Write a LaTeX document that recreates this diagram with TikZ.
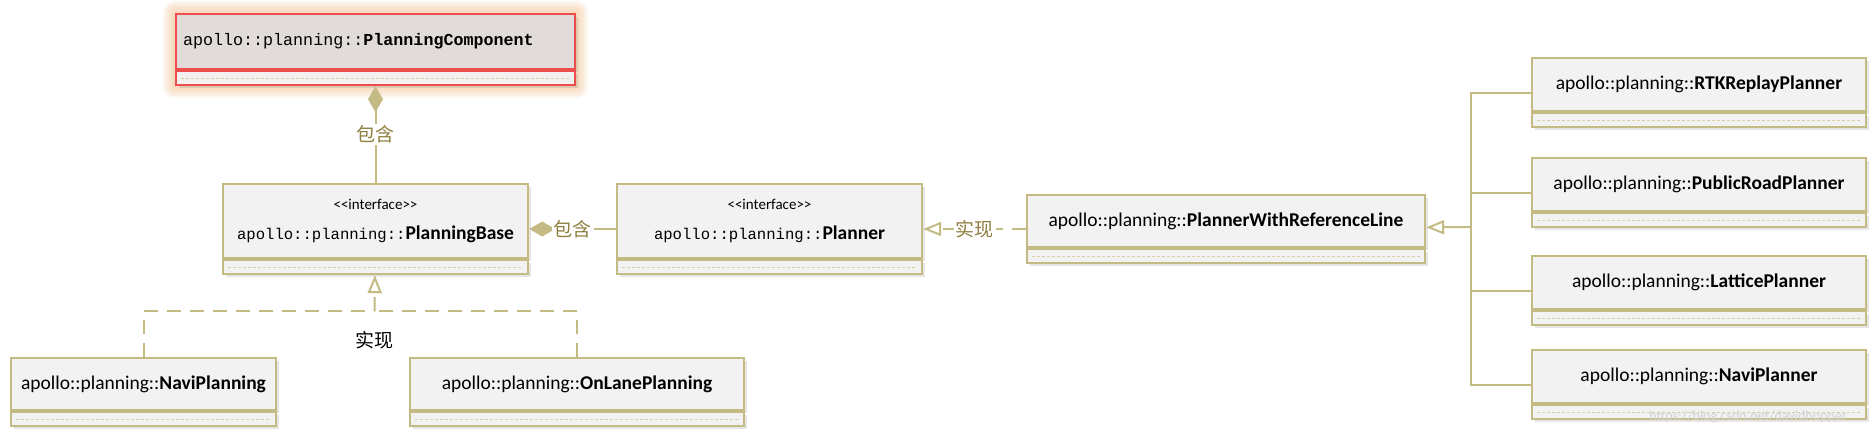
\documentclass[tikz,border=0pt]{standalone}
\usepackage{fontspec}
\newfontfamily\uifont{Carlito}
\newfontfamily\codefont{Liberation Mono}
\newfontfamily\cjkfont{Noto Sans CJK SC}
\usetikzlibrary{positioning, fit, calc, shadows, arrows.meta}

\definecolor{umlline}{HTML}{C3BB83}
\definecolor{umlfill}{HTML}{F2F2F2}
\definecolor{umldot}{HTML}{D6CFA2}
\definecolor{umllabel}{HTML}{8E7E3E}
\definecolor{compfill}{HTML}{E1DCDA}
\definecolor{compline}{HTML}{EE4D4D}
\definecolor{compglow}{HTML}{F2B77C}

\tikzset{
  classhead/.style={draw=umlline, fill=umlfill, line width=2pt, anchor=north west,
    inner sep=0pt, align=center, font=\uifont\fontsize{19.5}{23}\selectfont,
    drop shadow={shadow xshift=3pt, shadow yshift=-3pt, opacity=0.2}},
  classops/.style={draw=umlline, fill=umlfill, line width=2pt, inner sep=0pt,
    minimum height=14pt,
    drop shadow={shadow xshift=3pt, shadow yshift=-3pt, opacity=0.2},
    path picture={\draw[umldot, line width=1pt, dash pattern=on 3pt off 2pt]
      ($(path picture bounding box.west)+(5pt,0pt)$) -- ($(path picture bounding box.east)+(-5pt,0pt)$);}},
  comphead/.style={classhead, draw=compline, fill=compfill, drop shadow={opacity=0},
    inner xsep=7pt, text width=385pt, align=left,
    font=\codefont\fontsize{16.7}{20}\selectfont},
  compops/.style={classops, draw=compline, fill=white!60!compfill, drop shadow={opacity=0}},
  conn/.style={draw=umlline, line width=2pt},
  compose/.style={conn, -{Diamond[length=26pt, width=15pt]}},
  realize/.style={conn, dash pattern=on 14pt off 9pt},
  generalize/.style={-{Triangle[open, length=18pt, width=14pt]}},
  linklabel/.style={fill=white, inner sep=2pt, text=umllabel, font=\cjkfont\fontsize{19}{22}\selectfont},
}
\newcommand{\pkg}{{\codefont\fontsize{15.6}{19}\selectfont apollo::planning::}}
\newcommand{\stereotype}{{\uifont\fontsize{15}{18}\selectfont <<interface>>}}

\begin{document}
\begin{tikzpicture}[x=1pt, y=-1pt]
    \pgfdeclarelayer{background}
    \pgfsetlayers{background,main}
    \useasboundingbox (0,0) rectangle (1876,434);
\node[comphead, minimum height=55pt] (comp-head) at (175,13) {apollo::planning::\textbf{PlanningComponent}};
\node[compops, minimum width=399pt, below=0pt of comp-head] (comp-ops) {};
\node[fit=(comp-head)(comp-ops), inner sep=0pt] (comp) {};
\node[classhead, minimum width=305pt, minimum height=74pt] (base-head) at (222,183) {\stereotype\\[7pt]\pkg\textbf{PlanningBase}};
\node[classops, minimum width=305pt, below=0pt of base-head] (base-ops) {};
\node[fit=(base-head)(base-ops), inner sep=0pt] (base) {};
\node[classhead, minimum width=305pt, minimum height=74pt] (planner-head) at (616,183) {\stereotype\\[7pt]\pkg\textbf{Planner}};
\node[classops, minimum width=305pt, below=0pt of planner-head] (planner-ops) {};
\node[fit=(planner-head)(planner-ops), inner sep=0pt] (planner) {};
\node[classhead, minimum width=398pt, minimum height=52pt] (pwrl-head) at (1026,194) {apollo::planning::\textbf{PlannerWithReferenceLine}};
\node[classops, minimum width=398pt, below=0pt of pwrl-head] (pwrl-ops) {};
\node[fit=(pwrl-head)(pwrl-ops), inner sep=0pt] (pwrl) {};
\foreach \n/\t/\y in {rtk/RTKReplayPlanner/57, public/PublicRoadPlanner/157, lattice/LatticePlanner/255, naviplanner/NaviPlanner/349} {
  \node[classhead, minimum width=334pt, minimum height=53pt] (\n-head) at (1531,\y) {apollo::planning::\textbf{\t}};
  \node[classops, minimum width=334pt, below=0pt of \n-head] (\n-ops) {};
  \node[fit=(\n-head)(\n-ops), inner sep=0pt] (\n) {};
}
\node[classhead, minimum width=265pt, minimum height=52pt] (navi-head) at (10,357) {apollo::planning::\textbf{NaviPlanning}};
\node[classops, minimum width=265pt, below=0pt of navi-head] (navi-ops) {};
\node[fit=(navi-head)(navi-ops), inner sep=0pt] (navi) {};
\node[classhead, minimum width=334pt, minimum height=52pt] (onlane-head) at (409,357) {apollo::planning::\textbf{OnLanePlanning}};
\node[classops, minimum width=334pt, below=0pt of onlane-head] (onlane-ops) {};
\node[fit=(onlane-head)(onlane-ops), inner sep=0pt] (onlane) {};
\begin{pgfonlayer}{background}
\fill[white] (0,0) rectangle (1876,434);
\foreach \g in {2,4,...,12}
  \fill[compglow, opacity=0.1, rounded corners=\g pt] ([xshift=-\g pt, yshift=\g pt]comp.north west) rectangle ([xshift=\g pt, yshift=-\g pt]comp.south east);
\end{pgfonlayer}
\draw[compose] (base) -- (comp) node[midway, linklabel] {包含};
\draw[compose] (planner) -- (base) node[midway, linklabel] {包含};
\draw[realize, generalize] (pwrl) -- (planner) node[midway, linklabel] {实现};
\coordinate (bus) at (1471,227);
\foreach \n in {rtk,public,lattice,naviplanner}
  \draw[conn] (\n) -| (bus);
\draw[conn, generalize] (bus) -- (pwrl);
\coordinate (join) at (374.5,311);
\draw[realize] (navi) |- (join);
\draw[realize] (onlane) |- (join);
\draw[realize, generalize] (join) -- (base);
\node[below=17pt of join, font=\cjkfont\fontsize{19}{22}\selectfont] (impl) {实现};
\node[font=\uifont\fontsize{14}{16}\selectfont, text=gray!35] (mark) at (1748,417) {https://blog.csdn.net/davidhopper};
\end{tikzpicture}
\end{document}
